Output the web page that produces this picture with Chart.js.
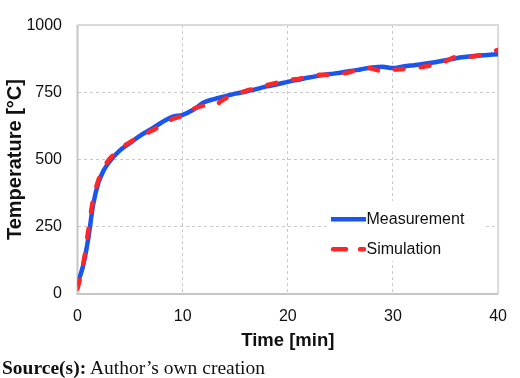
<!DOCTYPE html>
<html>
<head>
<meta charset="utf-8">
<script src="https://cdn.jsdelivr.net/npm/chart.js@4"></script>
<style>
  html, body { margin: 0; padding: 0; background: #fff; }
  #wrap { position: relative; width: 520px; height: 378px; }
  #src { position: absolute; left: 2px; top: 358px; font-family: "Liberation Serif", serif; font-size: 19.5px; line-height: 20px; color: #111; white-space: nowrap; }
</style>
</head>
<body>
<div id="wrap">
  <canvas id="c" width="520" height="378"></canvas>
  <div id="src"><b>Source(s):</b> Author’s own creation</div>
</div>
<script>
const times       = [0, 0.5, 1, 1.5, 2, 2.5, 3, 4, 5, 6, 7, 8, 9, 10, 11, 12, 13, 14, 15, 16, 17, 18, 19, 20, 21, 22, 23, 24, 25, 26, 27, 28, 29, 30, 31, 32, 33, 34, 35, 36, 37, 38, 39, 40];
const measurement = [40, 100, 200, 335, 415, 460, 490, 533, 562, 590, 613, 638, 659, 666, 685, 712, 725, 735, 745, 753, 762, 772, 780, 789, 797, 805, 812, 818, 823, 829, 836, 842, 845, 840, 846, 851, 856, 862, 869, 877, 882, 886, 889, 892];
const simulation  = [20, 100, 230, 355, 425, 470, 500, 538, 565, 586, 606, 628, 650, 663, 688, 700, 700, 726, 742, 755, 766, 777, 786, 795, 800, 810, 815, 816, 819, 826, 843, 838, 828, 834, 837, 840, 846, 853, 866, 882, 881, 886, 898, 908];
const seriesNames = ["Measurement", "Simulation"];
const xTicks = [0, 10, 20, 30, 40];
const yTicks = [0, 250, 500, 750, 1000];

const BLUE = "#1a55ee";
const RED = "#ff2626";

const toPts = (ys) => times.map((t, i) => ({ x: t, y: ys[i] }));

const framePlugin = {
  id: "frame",
  beforeDatasetsDraw(chart) {
    const { ctx, chartArea: a } = chart;
    ctx.save();
    ctx.setLineDash([]);
    ctx.lineWidth = 2;
    ctx.strokeStyle = "#dadada";
    ctx.beginPath();
    ctx.moveTo(a.left, a.top); ctx.lineTo(a.right, a.top); ctx.lineTo(a.right, a.bottom);
    ctx.stroke();
    ctx.strokeStyle = "#c6c6c6";
    ctx.beginPath();
    ctx.moveTo(a.left, a.top); ctx.lineTo(a.left, a.bottom); ctx.lineTo(a.right, a.bottom);
    ctx.stroke();
    ctx.restore();
  }
};

const legendPlugin = {
  id: "boxLegend",
  afterDatasetsDraw(chart) {
    const { ctx } = chart;
    ctx.save();
    ctx.fillStyle = "#ffffff";
    ctx.fillRect(327, 201, 156, 60);
    const rows = [219.3, 249.3];
    chart.data.datasets.forEach((ds, i) => {
      const y = rows[i];
      ctx.strokeStyle = ds.borderColor;
      ctx.lineWidth = 4.5;
      ctx.lineCap = i === 0 ? "butt" : "round";
      ctx.setLineDash(i === 0 ? [] : [13, 14]);
      ctx.beginPath();
      if (i === 0) { ctx.moveTo(331, y); ctx.lineTo(366, y); }
      else { ctx.moveTo(333, y); ctx.lineTo(364, y); }
      ctx.stroke();
      ctx.setLineDash([]);
      ctx.fillStyle = "#111";
      ctx.font = "16px 'Liberation Sans', Arial, sans-serif";
      ctx.textBaseline = "middle";
      ctx.textAlign = "left";
      ctx.fillText(ds.label, 366.5, y + 0.5);
    });
    ctx.restore();
  }
};

const gridOpts = {
  color: "#c8c8c8",
  lineWidth: 1,
  drawTicks: false
};

new Chart(document.getElementById("c"), {
  type: "line",
  data: {
    datasets: [
      {
        label: seriesNames[0],
        data: toPts(measurement),
        borderColor: BLUE,
        borderWidth: 4.5,
        pointRadius: 0,
        cubicInterpolationMode: "monotone",
        borderCapStyle: "round",
        borderJoinStyle: "round",
        order: 2
      },
      {
        label: seriesNames[1],
        data: toPts(simulation),
        borderColor: RED,
        borderWidth: 4.5,
        borderDash: [9, 17],
        borderCapStyle: "round",
        pointRadius: 0,
        tension: 0.3,
        order: 1
      }
    ]
  },
  options: {
    responsive: false,
    animation: false,
    devicePixelRatio: 1,
    layout: { padding: { left: 0, right: 10.7, top: 8.5, bottom: 26 } },
    plugins: { legend: { display: false }, tooltip: { enabled: false } },
    scales: {
      x: {
        type: "linear",
        min: 0, max: 40,
        afterBuildTicks: (s) => { s.ticks = xTicks.map(v => ({ value: v })); },
        afterFit: (s) => { s.height = 58; },
        grid: gridOpts,
        border: { display: false, dash: [3, 3] },
        ticks: { padding: 13, color: "#111", font: { family: "'Liberation Sans', Arial, sans-serif", size: 16 }, maxRotation: 0,
                 callback: (v) => String(v) },
        title: { display: true, text: "Time [min]", color: "#111", padding: { top: 0, bottom: 0 },
                 font: { family: "'Liberation Sans', Arial, sans-serif", size: 18.5, weight: "bold" } }
      },
      y: {
        type: "linear",
        min: 0, max: 1000,
        afterBuildTicks: (s) => { s.ticks = yTicks.map(v => ({ value: v })); },
        afterFit: (s) => { s.width = 77.5; },
        grid: gridOpts,
        border: { display: false, dash: [3, 3] },
        ticks: { padding: 15.5, color: "#111", font: { family: "'Liberation Sans', Arial, sans-serif", size: 16 },
                 callback: (v) => String(v) },
        title: { display: true, text: "Temperature [°C]", color: "#111", padding: { top: 3, bottom: 0 },
                 font: { family: "'Liberation Sans', Arial, sans-serif", size: 20, weight: "bold" } }
      }
    }
  },
  plugins: [framePlugin, legendPlugin]
});
</script>
</body>
</html>
